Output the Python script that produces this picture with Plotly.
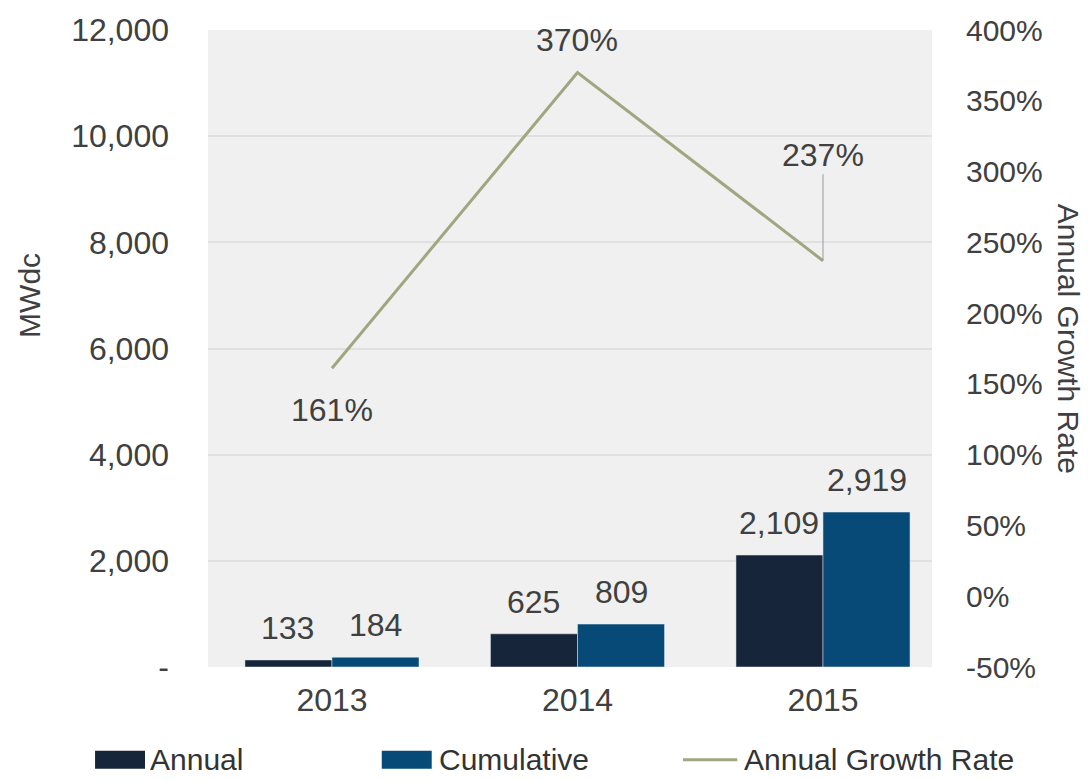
import plotly.graph_objects as go

years = ["2013", "2014", "2015"]
annual = [133, 625, 2109]
cumulative = [184, 809, 2919]
growth = [161, 370, 237]
growth_labels = ["161%", "370%", "237%"]

left_ticks = [0, 2000, 4000, 6000, 8000, 10000, 12000]
left_ticktext = ["-", "2,000", "4,000", "6,000", "8,000", "10,000", "12,000"]
right_ticks = [-50, 0, 50, 100, 150, 200, 250, 300, 350, 400]
right_ticktext = ["-50%", "0%", "50%", "100%", "150%", "200%", "250%", "300%", "350%", "400%"]

C_ANNUAL = "#16253a"
C_CUM = "#074a77"
C_LINE = "#a0a67f"
TXT = "#404040"
FONT = "Liberation Sans, Arial, sans-serif"
FS = 32

fig = go.Figure()
fig.add_trace(go.Bar(name="Annual", x=years, y=annual, marker_color=C_ANNUAL,
                     showlegend=False, yaxis="y"))
fig.add_trace(go.Bar(name="Cumulative", x=years, y=cumulative, marker_color=C_CUM,
                     showlegend=False, yaxis="y"))
fig.add_trace(go.Scatter(name="Annual Growth Rate", x=years, y=growth, mode="lines",
                         line=dict(color=C_LINE, width=3), showlegend=False, yaxis="y2"))

tf = dict(size=FS, color=TXT, family=FONT)
ann = []
# bar value labels (x given as category index)
for i, (a, c) in enumerate(zip(annual, cumulative)):
    ann.append(dict(x=i, y=a, xref="x", yref="y", text=f"{a:,}", showarrow=False,
                    xshift=-44, yshift=12, xanchor="center", yanchor="bottom", font=tf))
    ann.append(dict(x=i, y=c, xref="x", yref="y", text=f"{c:,}", showarrow=False,
                    xshift=44, yshift=12, xanchor="center", yanchor="bottom", font=tf))
# growth labels
ann.append(dict(x=0, y=growth[0], xref="x", yref="y2", text=growth_labels[0],
                showarrow=False, yshift=-42, xanchor="center", yanchor="middle", font=tf))
ann.append(dict(x=1, y=growth[1], xref="x", yref="y2", text=growth_labels[1],
                showarrow=False, yshift=32, xanchor="center", yanchor="middle", font=tf))
ann.append(dict(x=2, y=growth[2], xref="x", yref="y2", text=growth_labels[2],
                showarrow=True, arrowhead=0, arrowwidth=1, arrowcolor="#9a9a9a",
                ax=0, ay=-106, xanchor="center", yanchor="middle", font=tf))
# axis titles
ann.append(dict(x=-0.246, y=0.584, xref="paper", yref="paper", text="MWdc", textangle=-90,
                xanchor="center", yanchor="middle", showarrow=False,
                font=dict(size=30, color=TXT, family=FONT)))
ann.append(dict(x=1.188, y=0.515, xref="paper", yref="paper", text="Annual Growth Rate",
                textangle=90, xanchor="center", yanchor="middle", showarrow=False,
                font=dict(size=30, color=TXT, family=FONT)))
# legend texts
leg_font = dict(size=30, color="#333333", family=FONT)
for x, t in [(-0.083, "Annual"), (0.316, "Cumulative"), (0.7376, "Annual Growth Rate")]:
    ann.append(dict(x=x, y=-0.1455, xref="paper", yref="paper", text=t,
                    xanchor="left", yanchor="middle", showarrow=False, font=leg_font))

shapes = [
    dict(type="rect", xref="paper", yref="paper", x0=-0.156, x1=-0.087, y0=-0.1596, y1=-0.1315,
         fillcolor=C_ANNUAL, line=dict(width=0)),
    dict(type="rect", xref="paper", yref="paper", x0=0.240, x1=0.309, y0=-0.1596, y1=-0.1315,
         fillcolor=C_CUM, line=dict(width=0)),
    dict(type="line", xref="paper", yref="paper", x0=0.656, x1=0.731, y0=-0.1455, y1=-0.1455,
         line=dict(color=C_LINE, width=3)),
]

fig.update_layout(
    width=1088, height=780,
    margin=dict(l=208, r=156, t=28, b=113),
    paper_bgcolor="white", plot_bgcolor="#f0f0f0",
    barmode="group", bargap=0.291, bargroupgap=0,
    font=dict(family=FONT, size=FS, color=TXT),
    xaxis=dict(type="category", range=[-0.505, 2.444], showgrid=False, zeroline=False,
               showline=False, ticks="", tickfont=tf, ticklabelstandoff=11),
    yaxis=dict(range=[0, 12000], tickvals=left_ticks, ticktext=left_ticktext,
               showgrid=True, gridcolor="#e0e0e0", gridwidth=1.5, zeroline=False,
               showline=False, ticks="", tickfont=tf, ticklabelstandoff=38),
    yaxis2=dict(range=[-50, 400], tickvals=right_ticks, ticktext=right_ticktext,
                overlaying="y", side="right", showgrid=False, zeroline=False,
                showline=False, ticks="", tickfont=dict(size=30, color=TXT, family=FONT),
                ticklabelstandoff=33),
    annotations=ann, shapes=shapes, showlegend=False,
)

fig.write_html("out.html")
